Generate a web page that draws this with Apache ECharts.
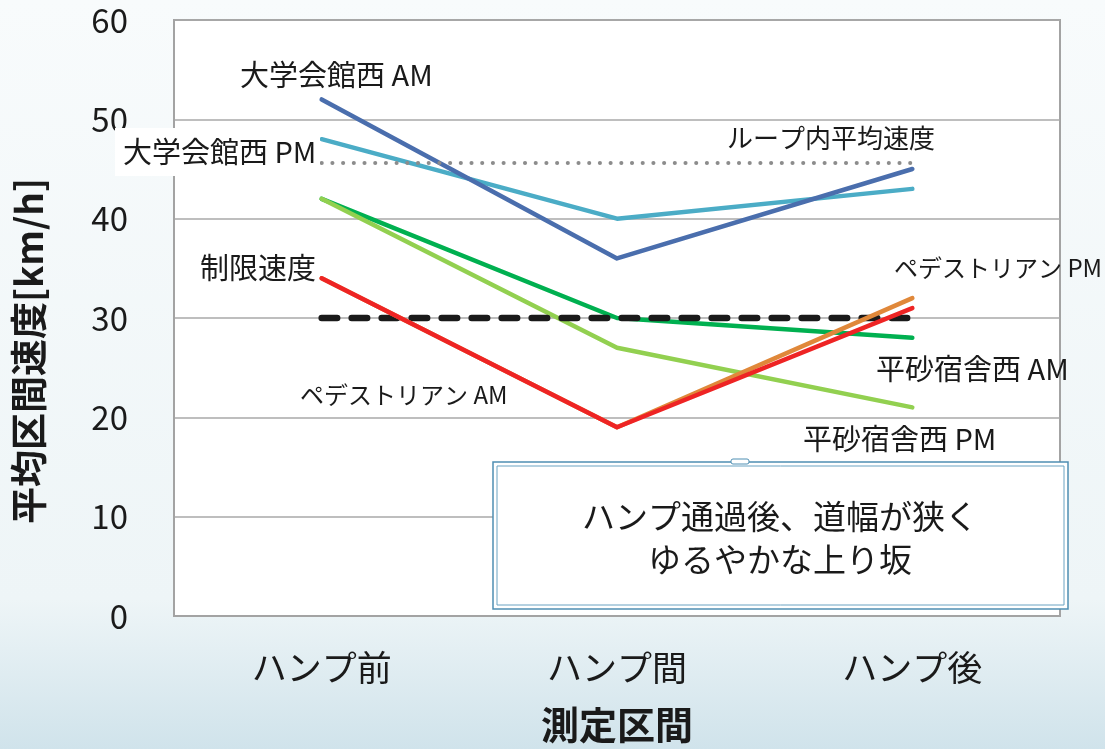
<!DOCTYPE html>
<html><head><meta charset="utf-8">
<script src="https://cdn.jsdelivr.net/npm/echarts@6/dist/echarts.min.js"></script>
<style>html,body{margin:0;padding:0;}#c{width:1105px;height:749px;}</style>
</head><body><div id="c"></div>
<script>
const categories = ['ハンプ前', 'ハンプ間', 'ハンプ後'];
const daigakuAM = [52, 36, 45];
const daigakuPM = [48, 40, 43];
const hirasunaAM = [42, 30, 28];
const hirasunaPM = [42, 27, 21];
const pedeAM = [34, 19, 31];
const pedePM = [34, 19, 32];
const speedLimit = [30, 30, 30];
const loopAverage = [45.6, 45.6, 45.6];
const yTicks = [0, 10, 20, 30, 40, 50, 60];

const FONT = '"Noto Sans CJK JP", "Noto Sans", sans-serif';
const chart = echarts.init(document.getElementById('c'), null, {renderer: 'canvas'});

function line(name, data, color, extra) {
  return Object.assign({
    name, type: 'line', data, symbol: 'none', silent: true,
    lineStyle: {color, width: 4.5, cap: 'round', join: 'round'},
    itemStyle: {color}
  }, extra || {});
}

function label(text, x, y, size) {
  return {type: 'text', z: 100, style: {text, x, y, fill: '#1a1a1a', font: (size || 29) + 'px ' + FONT, align: 'left', verticalAlign: 'middle'}};
}

chart.setOption({
  backgroundColor: {
    type: 'linear', x: 0, y: 0, x2: 0, y2: 1,
    colorStops: [
      {offset: 0, color: '#f8fbfc'},
      {offset: 0.8, color: '#eef5f7'},
      {offset: 1, color: '#d0e3eb'}
    ]
  },
  textStyle: {fontFamily: FONT},
  animation: false,
  grid: {left: 174, right: 45, top: 20, bottom: 132, show: true, backgroundColor: '#ffffff', borderColor: '#a3a3a3', borderWidth: 2},
  xAxis: {
    type: 'category', data: categories, boundaryGap: true,
    axisLine: {show: true, lineStyle: {color: '#a3a3a3', width: 2}},
    axisTick: {show: false},
    axisLabel: {fontSize: 35, color: '#1a1a1a', margin: 34, lineHeight: 35, fontFamily: FONT},
    name: '測定区間', nameLocation: 'middle', nameGap: 90,
    nameTextStyle: {fontSize: 38, fontWeight: 'bold', color: '#1a1a1a', fontFamily: FONT}
  },
  yAxis: {
    type: 'value', min: 0, max: 60, interval: 10,
    axisLine: {show: true, lineStyle: {color: '#a3a3a3', width: 2}},
    axisTick: {show: false},
    axisLabel: {fontSize: 33, color: '#1a1a1a', margin: 46, fontFamily: FONT,
      formatter: v => yTicks.includes(v) ? String(v) : ''},
    splitLine: {show: true, lineStyle: {color: '#a8a8a8', width: 1.5}}
  },
  series: [
    line('大学会館西 PM', daigakuPM, '#4bacc6'),
    line('大学会館西 AM', daigakuAM, '#4a6ead'),
    line('平砂宿舎西 AM', hirasunaAM, '#00b050'),
    line('平砂宿舎西 PM', hirasunaPM, '#92d050'),
    line('ループ内平均速度', loopAverage, '#8c8c8c', {lineStyle: {color: '#8c8c8c', width: 4, type: [0.1, 10.6], cap: 'round'}}),
    line('制限速度', speedLimit, '#1a1a1a', {lineStyle: {color: '#1a1a1a', width: 6.5, type: [15.5, 14.5], cap: 'round'}}),
    line('ペデストリアン PM', pedePM, '#e0883a'),
    line('ペデストリアン AM', pedeAM, '#ee2424')
  ],
  graphic: [
    label('大学会館西 AM', 240, 75),
    {type: 'rect', z: 99, shape: {x: 115, y: 128, width: 205, height: 48}, style: {fill: '#ffffff'}},
    label('大学会館西 PM', 123, 152),
    label('ループ内平均速度', 727, 138, 26),
    label('制限速度', 200, 268),
    label('ペデストリアン PM', 894, 268, 24),
    label('ペデストリアン AM', 300, 395, 24),
    label('平砂宿舎西 AM', 876, 369),
    label('平砂宿舎西 PM', 803, 439),
    {type: 'rect', z: 100, shape: {x: 493, y: 462, width: 575, height: 147}, style: {fill: '#ffffff', stroke: '#4f8fb3', lineWidth: 1.5}},
    {type: 'rect', z: 101, shape: {x: 497, y: 466, width: 567, height: 139}, style: {fill: 'none', stroke: '#6aa3c2', lineWidth: 1}},
    {type: 'rect', z: 102, shape: {x: 731, y: 459, width: 18, height: 5, r: 2}, style: {fill: '#ffffff', stroke: '#4f8fb3', lineWidth: 1}},
    {type: 'text', z: 103, style: {text: 'ハンプ通過後、道幅が狭く\nゆるやかな上り坂', x: 780, y: 538, fill: '#1a1a1a', font: '33px ' + FONT, align: 'center', verticalAlign: 'middle', lineHeight: 43}},
    {type: 'text', z: 100, rotation: Math.PI / 2, x: 29, y: 351, style: {text: '平均区間速度[km/h]', x: 0, y: 0, fill: '#1a1a1a', font: 'bold 37px ' + FONT, align: 'center', verticalAlign: 'middle'}}
  ]
});
</script></body></html>
